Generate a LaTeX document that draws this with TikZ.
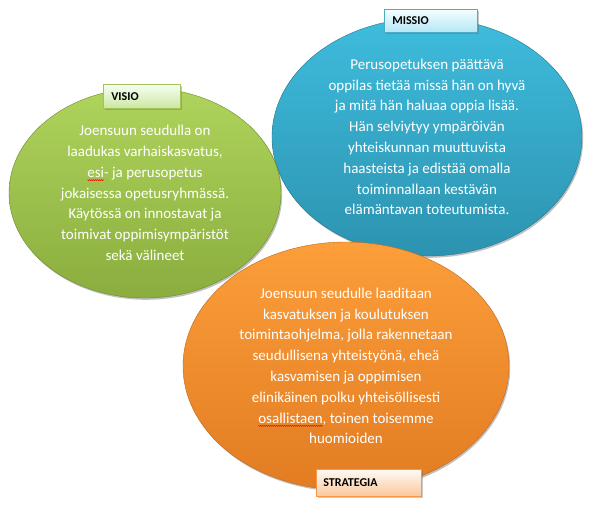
\documentclass[tikz,border=0pt]{standalone}
\usepackage{fontspec}
\setmainfont{Carlito}
\usetikzlibrary{shapes.geometric,shadows}
\newlength\sqw
\newcommand\squig[1]{\settowidth\sqw{#1}\rlap{\tikz[baseline=0pt,x=1pt,y=1pt]\draw[red,line width=0.5pt] (0,-2.2) \foreach \i in {1,...,\number\numexpr\sqw/131072\relax} {-- ++(1,-1) -- ++(1,1)};}#1}
\definecolor{grnT}{HTML}{AFD45C}
\definecolor{grnB}{HTML}{8AAD3E}
\definecolor{bluT}{HTML}{3FBCDD}
\definecolor{bluB}{HTML}{2C93B0}
\definecolor{orgT}{HTML}{FC9E3A}
\definecolor{orgB}{HTML}{E27C22}
\tikzset{
  bubble/.style={ellipse, inner sep=0pt, align=center, text=white,
    font={\fontsize{15}{20.8}\selectfont},
    drop shadow={shadow xshift=1.2pt, shadow yshift=-1.8pt, opacity=0.35, fill=black!70}},
  tag/.style={rectangle, anchor=north west, inner xsep=8pt, inner ysep=0pt,
    align=left, text=black, line width=0.7pt,
    font={\fontsize{12}{13}\selectfont\bfseries},
    drop shadow={shadow xshift=1.2pt, shadow yshift=-1.5pt, opacity=0.35, fill=black!60}}
}
\begin{document}
\begin{tikzpicture}[x=1pt,y=-1pt]
\useasboundingbox (0,0) rectangle (592,507);
% MISSIO (blue)
\node[bubble, minimum width=310pt, minimum height=238pt,
  top color=bluT, bottom color=bluB, draw=bluB!80!black, line width=0.4pt]
  (missio) at (427,137) {Perusopetuksen päättävä\\oppilas tietää missä hän on hyvä\\ja mitä hän haluaa oppia lisää.\\Hän selviytyy ympäröivän\\yhteiskunnan muuttuvista\\haasteista ja edistää omalla\\toiminnallaan kestävän\\elämäntavan toteutumista.};
% VISIO (green)
\node[bubble, minimum width=272pt, minimum height=210pt,
  top color=grnT, bottom color=grnB, draw=grnB!80!black, line width=0.4pt]
  (visio) at (145,193) {Joensuun seudulla on\\laadukas varhaiskasvatus,\\\squig{esi}- ja perusopetus\\jokaisessa opetusryhmässä.\\Käytössä on innostavat ja\\toimivat oppimisympäristöt\\sekä välineet};
% STRATEGIA (orange)
\node[bubble, minimum width=326pt, minimum height=248pt,
  top color=orgT, bottom color=orgB, draw=orgB!85!black, line width=0.4pt]
  (strategia) at (346,366) {Joensuun seudulle laaditaan\\kasvatuksen ja koulutuksen\\toimintaohjelma, jolla rakennetaan\\seudullisena yhteistyönä, eheä\\kasvamisen ja oppimisen\\elinikäinen polku yhteisöllisesti\\\squig{osallistaen}, toinen toisemme\\huomioiden};
% tags
\node[tag, minimum width=77pt, minimum height=24pt, text width=61pt,
  top color=green!4!white, bottom color={rgb,255:red,205;green,230;blue,160},
  draw={rgb,255:red,160;green,196;blue,90}] (tvisio) at (103,84) {VISIO};
\node[tag, minimum width=93pt, minimum height=23pt, text width=77pt,
  top color=cyan!4!white, bottom color={rgb,255:red,180;green,230;blue,245},
  draw={rgb,255:red,75;green,172;blue,198}] (tmissio) at (384,9) {MISSIO};
\node[tag, minimum width=105pt, minimum height=27pt, text width=91pt, inner xsep=7pt,
  top color=orange!4!white, bottom color={rgb,255:red,251;green,200;blue,155},
  draw={rgb,255:red,247;green,150;blue,70}] (tstrategia) at (316,469) {STRATEGIA};
\end{tikzpicture}
\end{document}
